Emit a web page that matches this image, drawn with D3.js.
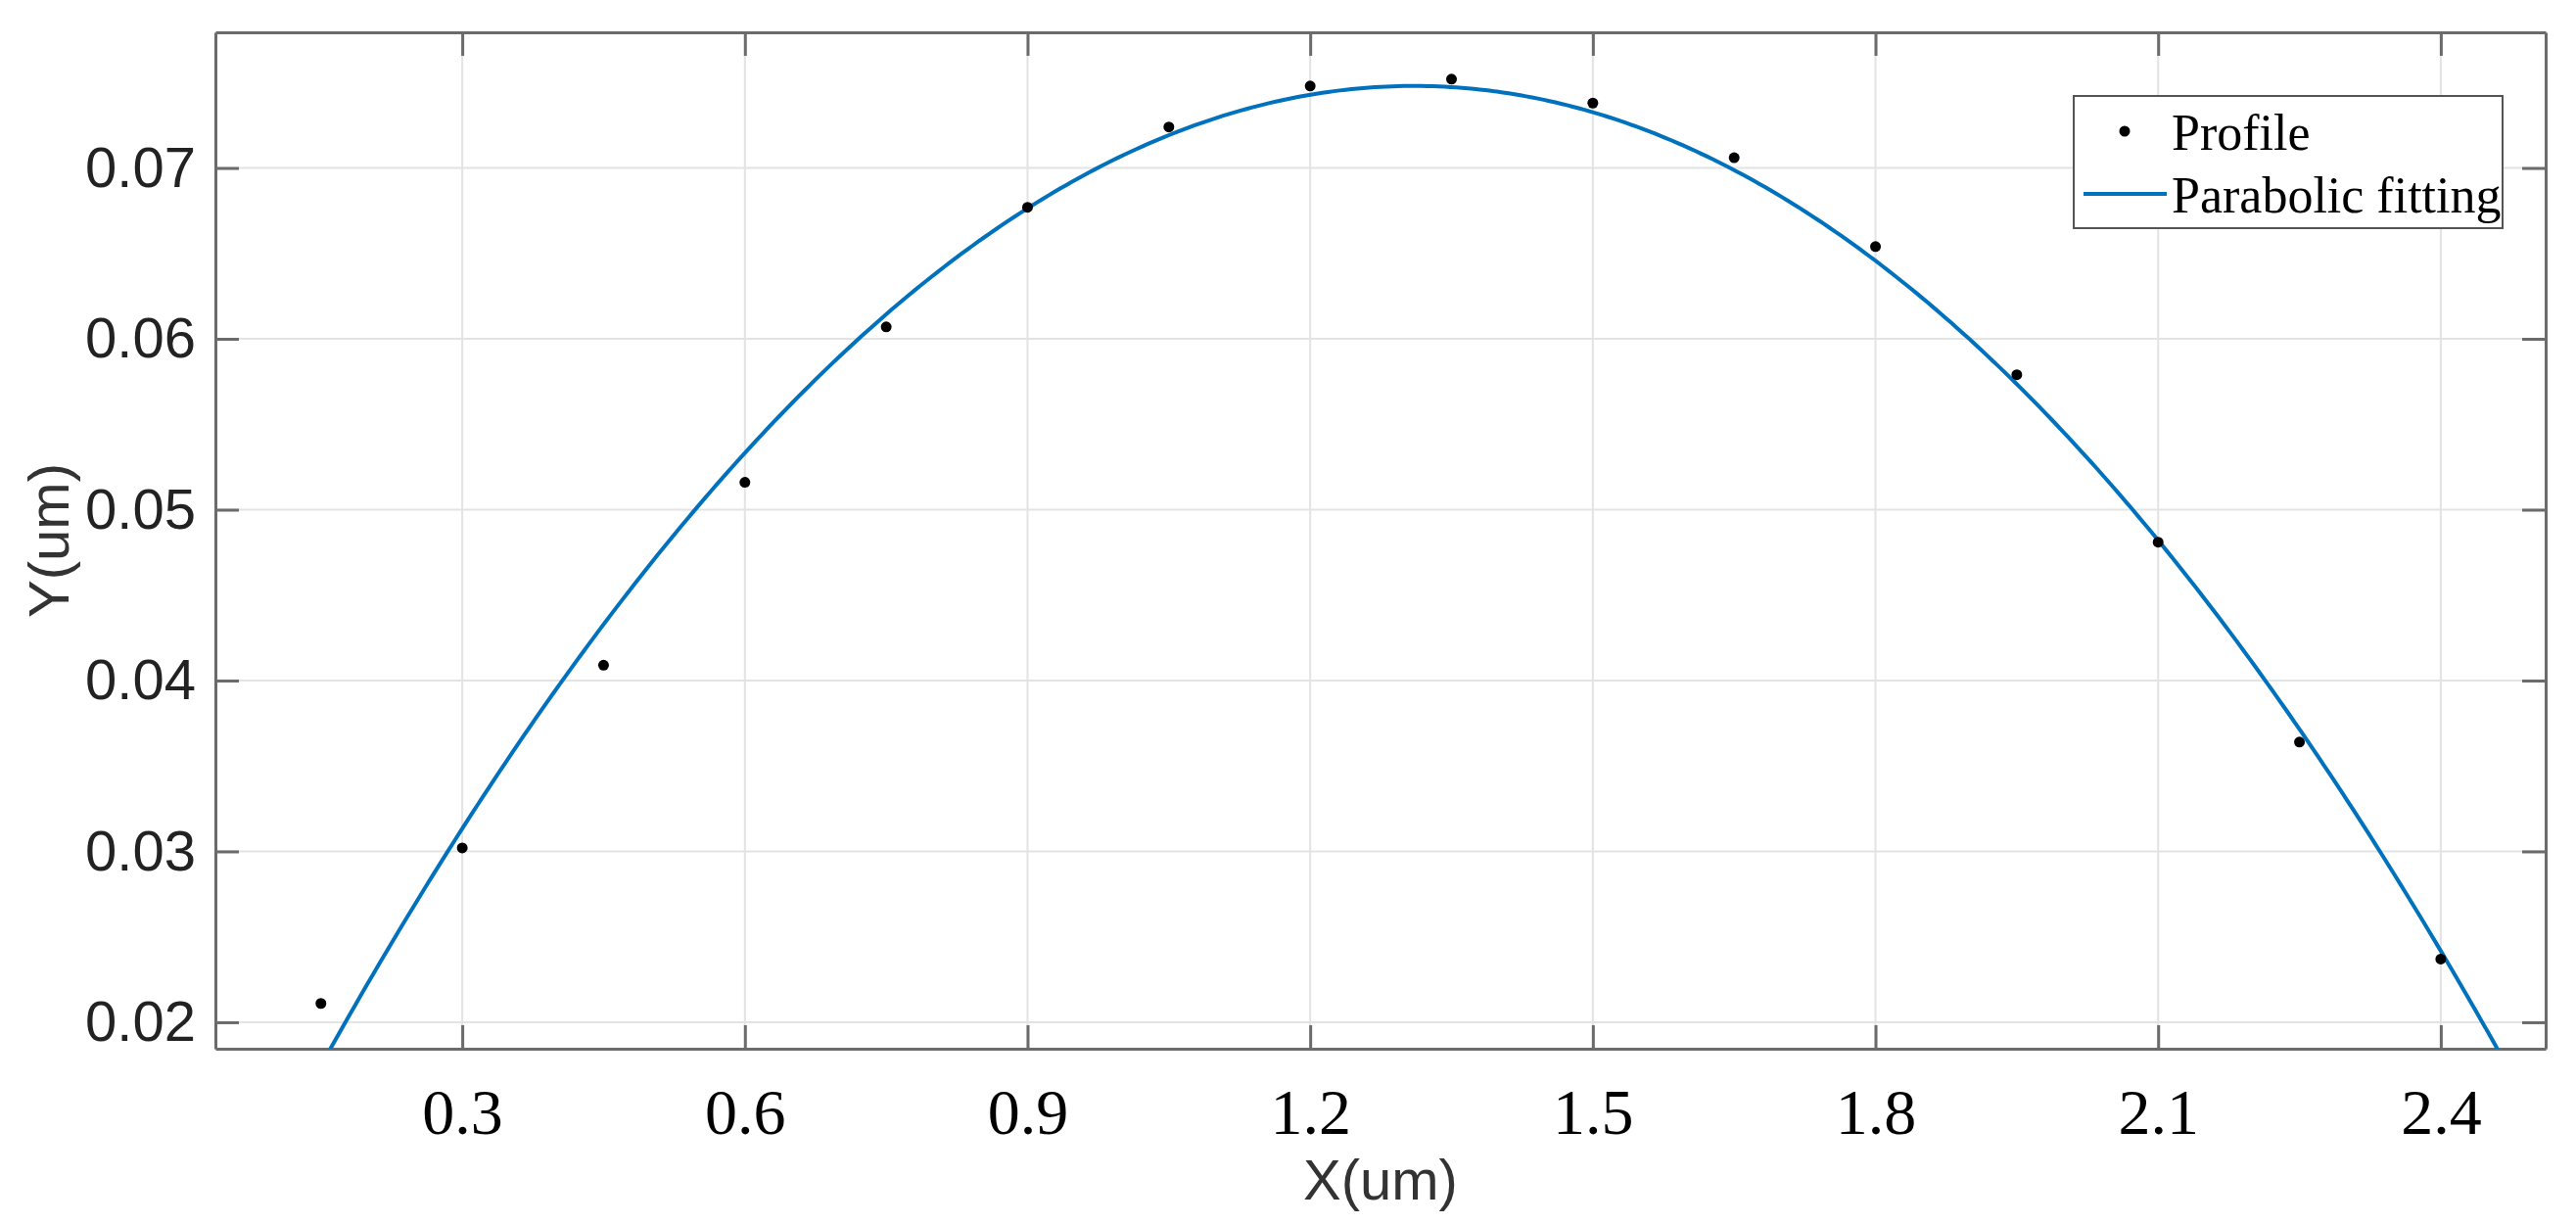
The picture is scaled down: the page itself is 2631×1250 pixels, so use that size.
<!DOCTYPE html>
<html><head><meta charset="utf-8">
<script src="https://cdn.jsdelivr.net/npm/d3@7"></script>
<style>body{margin:0;background:#fff}</style></head>
<body><svg id="c" width="2631" height="1250"></svg>
<script>
const profileX = [0.15,0.3,0.45,0.6,0.75,0.9,1.05,1.2,1.35,1.5,1.65,1.8,1.95,2.1,2.25,2.4];
const profileY = [0.0211,0.0302,0.0409,0.0516,0.0607,0.0677,0.0724,0.0748,0.0752,0.0738,0.0706,0.0654,0.0579,0.0481,0.0364,0.0237];
// parabola fit: y = k - a*(x-h)^2  -> [a, h, k]
const fitCoef = [0.04261, 1.310, 0.0748];
const xTicks = [0.3,0.6,0.9,1.2,1.5,1.8,2.1,2.4];
const yTicks = [0.02,0.03,0.04,0.05,0.06,0.07];
const legendLabels = ["Profile","Parabolic fitting"];

const svg = d3.select("#c");
const L=220,R=2600,T=33,B=1071;
const x = d3.scaleLinear().domain([0.038,2.5113]).range([L,R]);
const y = d3.scaleLinear().domain([0.01845,0.07794]).range([B,T]);
const grid="#e3e3e3", ax="#6b6b6b";
const g = svg.append("g");
g.selectAll(".gx").data(xTicks).join("line").attr("x1",d=>x(d)).attr("x2",d=>x(d)).attr("y1",T).attr("y2",B).attr("stroke",grid).attr("stroke-width",2);
g.selectAll(".gy").data(yTicks).join("line").attr("y1",d=>y(d)).attr("y2",d=>y(d)).attr("x1",L).attr("x2",R).attr("stroke",grid).attr("stroke-width",2);

const axB = d3.axisBottom(x).tickValues(xTicks).tickSizeInner(-24).tickSizeOuter(0).tickPadding(40).tickFormat(d3.format(".1f"));
const axT = d3.axisTop(x).tickValues(xTicks).tickSizeInner(-24).tickSizeOuter(0).tickFormat("");
const axL = d3.axisLeft(y).tickValues(yTicks).tickSizeInner(-24).tickSizeOuter(0).tickPadding(20).tickFormat(d3.format(".2f"));
const axR = d3.axisRight(y).tickValues(yTicks).tickSizeInner(-24).tickSizeOuter(0).tickFormat("");
function style(sel){sel.selectAll("path,line").attr("stroke",ax).attr("stroke-width",3);}
const gb=svg.append("g").attr("transform",`translate(0,${B})`).call(axB).call(style);
gb.selectAll("text").attr("font-family","'Liberation Serif','Times New Roman',serif").attr("font-size",66).attr("fill","#000");
svg.append("g").attr("transform",`translate(0,${T})`).call(axT).call(style);
const gl=svg.append("g").attr("transform",`translate(${L},0)`).call(axL).call(style);
gl.selectAll("text").attr("font-family","'Liberation Sans',Arial,sans-serif").attr("font-size",58).attr("fill","#222");
svg.append("g").attr("transform",`translate(${R},0)`).call(axR).call(style);

svg.append("clipPath").attr("id","cp").append("rect").attr("x",L).attr("y",T).attr("width",R-L).attr("height",B-T);
const curve = d3.range(0,401).map(i=>{const xv=x.domain()[0]+(x.domain()[1]-x.domain()[0])*i/400;return [xv, fitCoef[2]-fitCoef[0]*(xv-fitCoef[1])**2];});
svg.append("path").datum(curve).attr("clip-path","url(#cp)").attr("fill","none").attr("stroke","#0072BD").attr("stroke-width",4)
  .attr("d",d3.line().x(d=>x(d[0])).y(d=>y(d[1])));
svg.selectAll(".pt").data(profileX).join("circle").attr("cx",d=>x(d)).attr("cy",(d,i)=>y(profileY[i])).attr("r",5.5).attr("fill","#000");

const lg=svg.append("g");
lg.append("rect").attr("x",2118).attr("y",98).attr("width",438).attr("height",135).attr("fill","#fff").attr("stroke","#555").attr("stroke-width",2);
lg.append("circle").attr("cx",2170).attr("cy",134).attr("r",5.5).attr("fill","#000");
lg.append("line").attr("x1",2128).attr("x2",2213).attr("y1",198).attr("y2",198).attr("stroke","#0072BD").attr("stroke-width",4);
lg.selectAll("text").data(legendLabels).join("text").attr("x",2218).attr("y",(d,i)=>153+i*64).text(d=>d)
  .attr("font-family","'Liberation Serif','Times New Roman',serif").attr("font-size",52).attr("fill","#000");

svg.append("text").attr("x",(L+R)/2).attr("y",1225).attr("text-anchor","middle").attr("font-family","'Liberation Sans',Arial,sans-serif").attr("font-size",58).attr("fill","#333").text("X(um)");
svg.append("text").attr("transform",`translate(70,${(T+B)/2}) rotate(-90)`).attr("text-anchor","middle").attr("font-family","'Liberation Sans',Arial,sans-serif").attr("font-size",58).attr("fill","#333").text("Y(um)");
</script></body></html>
